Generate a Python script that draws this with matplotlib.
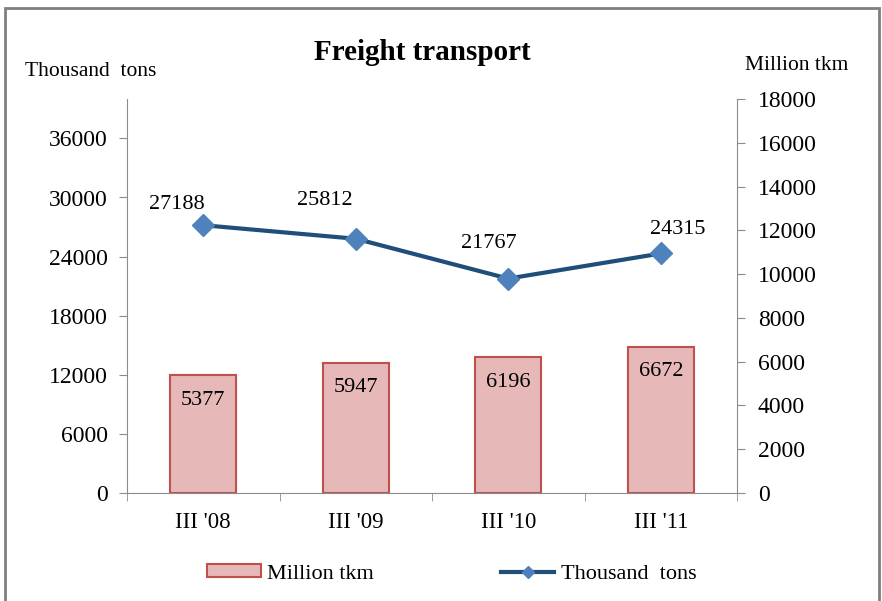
import numpy as np
import matplotlib.pyplot as plt
from matplotlib.patches import Rectangle

categories = ["III '08", "III '09", "III '10", "III '11"]
million_tkm = [5377, 5947, 6196, 6672]
thousand_tons = [27188, 25812, 21767, 24315]

plt.rcParams['font.family'] = ['Liberation Serif', 'DejaVu Serif']
grey = '#8c8c8c'

fig = plt.figure(figsize=(8.82, 6.01), dpi=100)
ax = fig.add_axes([127 / 882, 1 - 493 / 601, 610 / 882, 394 / 601])
ax2 = ax.twinx()

x = np.arange(len(categories))

# bars on the right axis
ax2.bar(x, million_tkm, width=0.43, color='#e6b9b8', edgecolor='#c0504d', linewidth=1.5, zorder=2)
for xi, v in zip(x, million_tkm):
    ax2.annotate(str(v), (xi, v), xytext=(0, -11), textcoords='offset points',
                 ha='center', va='top', fontsize=16)

# line on the left axis, drawn above the bars
ax.set_zorder(ax2.get_zorder() + 1)
ax.patch.set_visible(False)
ax.plot(x, thousand_tons, color='#1f4e79', linewidth=3, marker='D', markersize=11,
        markerfacecolor='#4f81bd', markeredgecolor='#4f81bd', zorder=3)
label_off = [(-19, 12), (-22, 24), (-14, 22), (12, 14)]
for xi, v, off in zip(x, thousand_tons, label_off):
    ax.annotate(str(v), (xi, v), xytext=off, textcoords='offset points',
                ha='center', va='baseline', fontsize=16)

ax.set_xlim(-0.5, 3.5)
ax.set_ylim(0, 40000)
ax.set_yticks(np.arange(0, 36001, 6000))
ax2.set_ylim(0, 18000)
ax2.set_yticks(np.arange(0, 18001, 2000))

ax.set_xticks(x)
ax.set_xticklabels(categories, fontsize=16.5)
ax.set_xticks(np.arange(-0.5, 3.6, 1), minor=True)
ax.tick_params(axis='x', which='major', length=0, pad=14)
ax.tick_params(axis='x', which='minor', length=6, color=grey, direction='out')
ax.tick_params(axis='y', labelsize=17, length=6, color=grey, direction='out', pad=8)
ax2.tick_params(axis='y', labelsize=17, length=6, color=grey, direction='out', pad=9)

for a in (ax, ax2):
    a.spines['top'].set_visible(False)
    for s in ('left', 'right', 'bottom'):
        a.spines[s].set_color(grey)
ax.spines['right'].set_visible(False)
ax2.spines['left'].set_visible(False)
ax2.spines['bottom'].set_visible(False)

fig.text(422 / 882, 1 - 52 / 601, 'Freight transport', ha='center', va='center',
         fontsize=21, fontweight='bold')
fig.text(25 / 882, 1 - 71 / 601, 'Thousand  tons', ha='left', va='center', fontsize=15.5)
fig.text(745 / 882, 1 - 66 / 601, 'Million tkm', ha='left', va='center', fontsize=15.5)

# legend
h1 = Rectangle((0, 0), 1, 1, facecolor='#e6b9b8', edgecolor='#c0504d', linewidth=1.5)
h2, = ax.plot([], [], color='#1f4e79', linewidth=3, marker='D', markersize=6,
              markerfacecolor='#4f81bd', markeredgecolor='#4f81bd')
fig.legend([h1, h2], ['Million tkm', 'Thousand  tons'], loc='center',
           bbox_to_anchor=(452 / 882, 1 - 574 / 601), ncol=2, frameon=False,
           fontsize=16, columnspacing=5.7, handlelength=2.4, handleheight=0.5,
           handletextpad=0.3)

fig.patches.append(Rectangle((5 / 882, -0.05), 874 / 882, 1.05 - 8 / 601,
                             transform=fig.transFigure, fill=False,
                             edgecolor='#7f7f7f', linewidth=2))

fig.savefig('out.png', dpi=100)
